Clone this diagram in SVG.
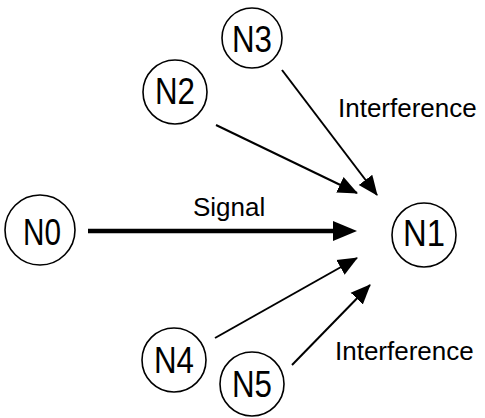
<svg xmlns="http://www.w3.org/2000/svg" width="485" height="418" viewBox="0 0 485 418">
<style>
.node circle{fill:#fff;stroke:#000;stroke-width:1.6}
.node text{font-family:"Liberation Sans",Arial,sans-serif;font-size:36px;text-anchor:middle;fill:#000}
.lbl{font-family:"Liberation Sans",Arial,sans-serif;font-size:26px;fill:#000}
.thin{stroke:#000;stroke-width:2;fill:none;marker-end:url(#ah)}
.thick{stroke:#000;stroke-width:4.5;fill:none;marker-end:url(#ahb)}
</style>
<defs>
<marker id="ah" markerUnits="userSpaceOnUse" markerWidth="22" markerHeight="22" viewBox="0 -11 22 22" refX="19" refY="0" orient="auto">
<path d="M0,-8.5 L20,0 L0,8.5 z" fill="#000"/>
</marker>
<marker id="ahb" markerUnits="userSpaceOnUse" markerWidth="26" markerHeight="24" viewBox="0 -12 26 24" refX="0" refY="0" orient="auto">
<path d="M0,-10 L24,0 L0,10 z" fill="#000"/>
</marker>
</defs>
<g id="connectors">
<line class="thick" x1="88" y1="231" x2="333" y2="231"/>
<line class="thin" x1="216" y1="125" x2="357" y2="193"/>
<line class="thin" x1="282" y1="70" x2="377" y2="195"/>
<line class="thin" x1="215" y1="338" x2="357" y2="258"/>
<line class="thin" x1="292" y1="365" x2="370" y2="285"/>
</g>
<g id="labels">
<text class="lbl" x="193" y="216">Signal</text>
<text class="lbl" x="338" y="117">Interference</text>
<text class="lbl" x="335" y="360">Interference</text>
</g>
<g id="N0" class="node"><circle cx="40" cy="230" r="35"/><text x="42" y="245" textLength="38" lengthAdjust="spacingAndGlyphs">N0</text></g>
<g id="N1" class="node"><circle cx="424" cy="235" r="32"/><text x="424" y="246" textLength="42" lengthAdjust="spacingAndGlyphs">N1</text></g>
<g id="N2" class="node"><circle cx="175" cy="92" r="32"/><text x="175" y="104" textLength="40" lengthAdjust="spacingAndGlyphs">N2</text></g>
<g id="N3" class="node"><circle cx="252" cy="38" r="30"/><text x="252" y="52" textLength="40" lengthAdjust="spacingAndGlyphs">N3</text></g>
<g id="N4" class="node"><circle cx="174" cy="360" r="32"/><text x="174" y="373" textLength="40" lengthAdjust="spacingAndGlyphs">N4</text></g>
<g id="N5" class="node"><circle cx="252" cy="384" r="32"/><text x="252" y="397" textLength="40" lengthAdjust="spacingAndGlyphs">N5</text></g>
</svg>
